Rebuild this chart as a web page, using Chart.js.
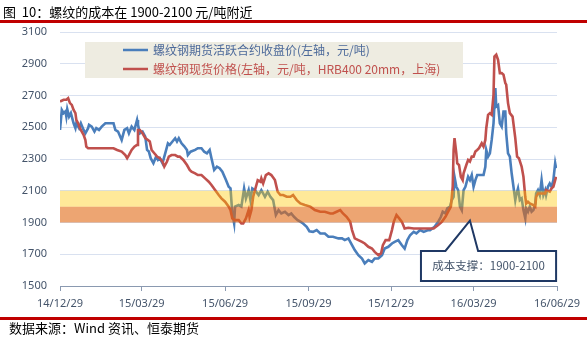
<!DOCTYPE html>
<html>
<head>
<meta charset="utf-8">
<script src="https://cdn.jsdelivr.net/npm/chart.js@4.4.1/dist/chart.umd.min.js"></script>
<style>
  html, body { margin: 0; padding: 0; background: #fff; }
  #wrap { position: relative; width: 587px; height: 337px; overflow: hidden; }
  #chart { position: absolute; left: 0; top: 0; }
  .title { position: absolute; left: 3px; top: 2px; font: 13px 'Noto Sans CJK SC', sans-serif; color: #000; white-space: pre; }
  .rule { position: absolute; left: 0; width: 587px; height: 3px; background: #c00000; }
  .foot { position: absolute; left: 9px; top: 318px; font: 13px 'Noto Sans CJK SC', sans-serif; color: #000; white-space: pre; }
</style>
</head>
<body>
<div id="wrap">
  <canvas id="chart" width="587" height="337"></canvas>
  <div class="title">图  10：螺纹的成本在 1900-2100 元/吨附近</div>
  <div class="rule" style="top:20px"></div>
  <div class="rule" style="top:317px"></div>
  <div class="foot">数据来源：Wind 资讯、恒泰期货</div>
</div>
<script>
// days counted from 2014-12-29
var futuresDays = [
  0, 2, 4, 6, 7, 8, 10, 12, 15, 17,
  18, 21, 23, 26, 28, 31, 32, 35, 38, 40,
  43, 46, 50, 55, 59, 61, 64, 68, 71, 74,
  76, 79, 82, 85, 86, 88, 91, 94, 96, 98,
  100, 103, 106, 108, 110, 113, 116, 119, 121, 124,
  127, 129, 131, 134, 137, 140, 141, 144, 149, 152,
  156, 159, 162, 165, 167, 170, 173, 176, 179, 183,
  186, 188, 190, 192, 193, 197, 200, 203, 205, 208,
  210, 212, 215, 219, 222, 226, 229, 232, 235, 238,
  241, 244, 248, 252, 255, 258, 262, 265, 268, 272,
  275, 279, 283, 287, 292, 296, 301, 307, 311, 314,
  318, 322, 325, 329, 333, 336, 340, 344, 347, 351,
  355, 358, 362, 366, 369, 373, 377, 380, 383, 386,
  390, 393, 397, 401, 406, 408, 413, 417, 420, 422,
  425, 427, 430, 432, 434, 435, 437, 439, 441, 443,
  445, 447, 448, 450, 452, 454, 456, 458, 460, 463,
  467, 469, 470, 472, 474, 476, 478, 480, 481, 483,
  485, 487, 489, 491, 492, 494, 496, 498, 500, 502,
  503, 505, 507, 509, 511, 513, 514, 516, 518, 520,
  522, 524, 525, 527, 529, 531, 533, 535, 536, 538,
  540, 542, 544, 546, 547
];
var futuresPrice = [
  2483, 2609, 2589, 2600, 2567, 2614, 2567, 2589, 2525, 2494,
  2525, 2494, 2525, 2483, 2462, 2494, 2515, 2504, 2473, 2494,
  2483, 2504, 2525, 2525, 2525, 2483, 2473, 2420, 2483, 2494,
  2462, 2504, 2483, 2546, 2515, 2462, 2473, 2441, 2357, 2347,
  2305, 2273, 2315, 2294, 2305, 2273, 2336, 2399, 2389, 2410,
  2431, 2410, 2431, 2399, 2380, 2357, 2325, 2346, 2357, 2368,
  2368, 2346, 2336, 2357, 2305, 2231, 2252, 2242, 2220, 2168,
  2125, 2115, 1957, 1894, 2000, 2010, 2000, 2115, 2052, 2104,
  2041, 2115, 2104, 2073, 2104, 2062, 2094, 2062, 2041, 1947,
  1978, 1957, 1968, 1947, 1957, 1936, 1915, 1905, 1894, 1873,
  1845, 1841, 1852, 1831, 1831, 1810, 1810, 1800, 1800, 1789,
  1800, 1757, 1726, 1694, 1673, 1642, 1663, 1652, 1673, 1673,
  1694, 1736, 1747, 1768, 1778, 1789, 1757, 1736, 1789, 1820,
  1841, 1831, 1852, 1841, 1852, 1852, 1873, 1904, 1936, 1968,
  1957, 1989, 2000, 2041, 2062, 2188, 2125, 2104, 2000, 1978,
  2104, 2125, 2146, 2188, 2167, 2199, 2125, 2167, 2199, 2199,
  2199, 2251, 2357, 2315, 2336, 2420, 2525, 2747, 2630, 2640,
  2525, 2504, 2599, 2599, 2462, 2336, 2315, 2210, 2125, 2041,
  2073, 2115, 2041, 2052, 1978, 1926, 1989, 1968, 2000, 1968,
  1978, 2020, 2083, 2104, 2073, 2167, 2073, 2104, 2073, 2125,
  2146, 2125, 2167, 2273, 2242
];

var spotDays = [
  0, 4, 7, 9, 11, 13, 15, 17, 18, 20,
  22, 24, 26, 28, 29, 31, 46, 59, 63, 68,
  72, 74, 76, 79, 82, 85, 86, 88, 91, 94,
  97, 99, 101, 104, 107, 110, 113, 115, 118, 120,
  123, 127, 130, 132, 136, 140, 143, 145, 149, 152,
  156, 160, 164, 167, 171, 175, 178, 182, 186, 188,
  190, 193, 197, 200, 202, 205, 208, 209, 211, 213,
  215, 218, 221, 222, 224, 227, 230, 233, 237, 240,
  243, 246, 250, 254, 257, 261, 265, 270, 276, 281,
  287, 292, 298, 301, 305, 309, 312, 316, 320, 322,
  325, 329, 333, 336, 340, 344, 347, 351, 354, 356,
  359, 363, 366, 368, 371, 374, 377, 380, 384, 390,
  397, 412, 417, 421, 425, 428, 431, 433, 434, 435,
  437, 438, 440, 442, 444, 445, 448, 450, 452, 454,
  456, 458, 460, 462, 465, 467, 469, 470, 472, 474,
  476, 478, 479, 481, 483, 485, 487, 489, 491, 492,
  494, 496, 499, 502, 504, 506, 509, 511, 513, 514,
  516, 518, 522, 524, 525, 527, 535, 536, 540, 542,
  544, 546, 547
];
var spotPrice = [
  2662, 2673, 2673, 2683, 2652, 2641, 2609, 2589, 2546, 2525,
  2494, 2473, 2452, 2420, 2378, 2368, 2368, 2368, 2357, 2347,
  2325, 2305, 2325, 2357, 2378, 2389, 2483, 2483, 2462, 2431,
  2420, 2410, 2357, 2336, 2315, 2305, 2284, 2252, 2284, 2315,
  2325, 2325, 2315, 2315, 2294, 2262, 2231, 2220, 2210, 2199,
  2199, 2178, 2157, 2136, 2104, 2073, 2052, 2031, 2000, 1978,
  1926, 1915, 1915, 1894, 1894, 1926, 1978, 1936, 1978, 2062,
  2104, 2167, 2157, 2178, 2146, 2199, 2210, 2199, 2167, 2094,
  2073, 2073, 2062, 2062, 2073, 2041, 2020, 2010, 2000, 1978,
  1968, 1968, 1957, 1957, 1968, 1978, 1957, 1936, 1904, 1852,
  1800, 1789, 1778, 1768, 1747, 1736, 1715, 1694, 1705, 1757,
  1789, 1789, 1852, 1904, 1947, 1926, 1904, 1862, 1867, 1862,
  1862, 1862, 1884, 1904, 1936, 1968, 2000, 2125, 2357, 2431,
  2336, 2273, 2262, 2188, 2167, 2210, 2262, 2294, 2284, 2315,
  2315, 2347, 2357, 2368, 2399, 2378, 2420, 2494, 2578, 2588,
  2578, 2704, 2946, 2957, 2925, 2841, 2841, 2831, 2778, 2768,
  2652, 2589, 2567, 2431, 2315, 2305, 2252, 2188, 2062, 2020,
  2031, 2020, 2010, 2000, 2062, 2083, 2083, 2104, 2094, 2115,
  2125, 2167, 2188
];

var tickDays = [0, 90, 182, 274, 365, 456, 548];
var tickLabels = ['14/12/29', '15/03/29', '15/06/29', '15/09/29', '15/12/29', '16/03/29', '16/06/29'];

// cost bands [low, high]
var costBands = [[1900, 2000], [2000, 2100]];
var calloutText = '成本支撑：1900-2100';

function toPoints(days, vals) {
  return days.map(function (d, i) { return { x: d, y: vals[i] }; });
}

var bandFill = ['rgba(225,105,20,0.6)', 'rgba(255,200,0,0.4)'];

var overlays = {
  id: 'overlays',
  afterDatasetsDraw: function (chart) {
    var ctx = chart.ctx, a = chart.chartArea, y = chart.scales.y;
    ctx.save();
    costBands.forEach(function (b, i) {
      var top = y.getPixelForValue(b[1]), bot = y.getPixelForValue(b[0]);
      ctx.fillStyle = bandFill[i];
      ctx.fillRect(a.left, top, a.right - a.left, bot - top);
    });
    ctx.restore();
  },
  afterDraw: function (chart) {
    var ctx = chart.ctx, a = chart.chartArea, x = chart.scales.x, y = chart.scales.y;
    ctx.save();

    // legend box
    ctx.fillStyle = '#eeece1';
    ctx.fillRect(a.left + 25, a.top + 10, 378, 36);
    ctx.font = "12px 'Noto Sans CJK SC', sans-serif";
    ctx.textBaseline = 'middle';
    chart.data.datasets.forEach(function (ds, i) {
      var ly = a.top + 18 + i * 19;
      ctx.strokeStyle = ds.borderColor;
      ctx.lineWidth = 2.5;
      ctx.beginPath();
      ctx.moveTo(a.left + 63, ly);
      ctx.lineTo(a.left + 88, ly);
      ctx.stroke();
      ctx.fillStyle = ds.textColor;
      ctx.fillText(ds.label, a.left + 93, ly);
    });

    // callout
    var L = x.getPixelForValue(398), R = x.getPixelForValue(547);
    var T = y.getPixelForValue(1721), B = y.getPixelForValue(1532);
    var b1 = x.getPixelForValue(425), b2 = x.getPixelForValue(461);
    var tx = x.getPixelForValue(452), ty = y.getPixelForValue(1912);
    ctx.beginPath();
    ctx.moveTo(L, T);
    ctx.lineTo(b1, T);
    ctx.lineTo(tx, ty);
    ctx.lineTo(b2, T);
    ctx.lineTo(R, T);
    ctx.lineTo(R, B);
    ctx.lineTo(L, B);
    ctx.closePath();
    ctx.fillStyle = '#fff';
    ctx.fill();
    ctx.strokeStyle = '#1f3864';
    ctx.lineWidth = 2;
    ctx.lineJoin = 'miter';
    ctx.stroke();
    ctx.fillStyle = '#44546a';
    ctx.font = "11.5px 'Noto Sans CJK SC', sans-serif";
    ctx.textAlign = 'center';
    ctx.fillText(calloutText, (L + R) / 2, (T + B) / 2);
    ctx.restore();
  }
};

var ctx = document.getElementById('chart').getContext('2d');
var chart = new Chart(ctx, {
  type: 'line',
  data: {
    datasets: [
      {
        label: '螺纹钢期货活跃合约收盘价(左轴，元/吨)',
        data: toPoints(futuresDays, futuresPrice),
        borderColor: '#4a7ebb',
        textColor: '#4d6a9a',
        borderWidth: 2.6,
        pointRadius: 0,
        order: 1
      },
      {
        label: '螺纹钢现货价格(左轴，元/吨，HRB400 20mm，上海)',
        data: toPoints(spotDays, spotPrice),
        borderColor: '#c0504d',
        textColor: '#c0504d',
        borderWidth: 2.6,
        pointRadius: 0,
        order: 0
      }
    ]
  },
  options: {
    responsive: false,
    animation: false,
    devicePixelRatio: 1,
    layout: { padding: { left: 0, right: 30, top: 32, bottom: 0 } },
    plugins: {
      legend: { display: false },
      tooltip: { enabled: false }
    },
    scales: {
      x: {
        type: 'linear',
        min: 0,
        max: 548,
        afterFit: function (scale) { scale.height = 51; },
        afterBuildTicks: function (scale) {
          scale.ticks = tickDays.map(function (v) { return { value: v }; });
        },
        ticks: {
          autoSkip: false,
          maxRotation: 0,
          padding: 6,
          color: '#44546a',
          font: { family: "'Noto Sans', sans-serif", size: 11 },
          callback: function (v) { return tickLabels[tickDays.indexOf(v)]; }
        },
        grid: { drawOnChartArea: false, drawTicks: true, tickLength: 5, color: '#8a99b0' },
        border: { display: true, color: '#8a99b0', width: 1 }
      },
      y: {
        min: 1500,
        max: 3100,
        afterFit: function (scale) { scale.width = 60; },
        ticks: {
          stepSize: 200,
          padding: 13,
          color: '#44546a',
          font: { family: "'Noto Sans', sans-serif", size: 11 },
          callback: function (v) { return String(v); }
        },
        grid: { color: '#d9e1f0', drawTicks: false },
        border: { display: false }
      }
    }
  },
  plugins: [overlays]
});
</script>
</body>
</html>
